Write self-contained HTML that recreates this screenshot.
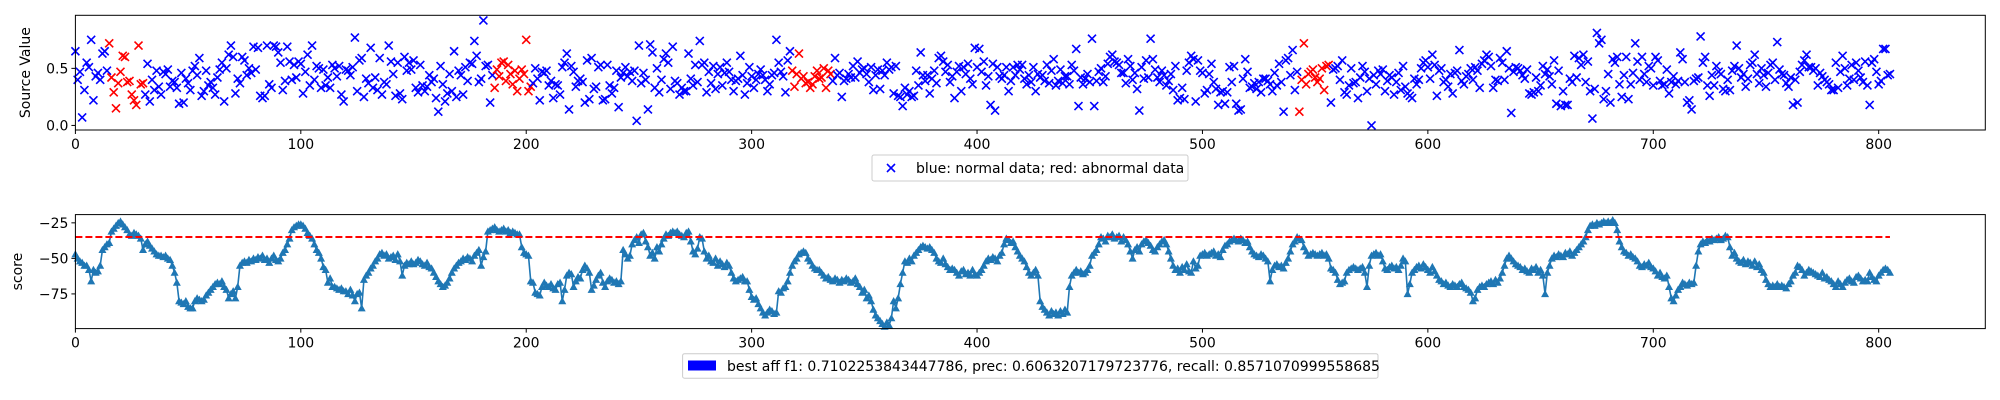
<!DOCTYPE html>
<html><head><meta charset="utf-8">
<style>
html,body{margin:0;padding:0;background:#fff;}
svg{display:block;font-family:"DejaVu Sans","Liberation Sans",sans-serif;}
</style></head>
<body>
<svg id="chart" width="2000" height="400" viewBox="0 0 2000 400" xmlns="http://www.w3.org/2000/svg">
<rect width="2000" height="400" fill="#fff"/>
<g id="topPanel"></g>
<g id="botPanel"></g>
</svg>
<script>
const xTicks=[0,100,200,300,400,500,600,700,800];
const srcYTicks=[0.0,0.5];
const srcYTickLabels=["0.0","0.5"];
const scoreYTicks=[-25,-50,-75];
const scoreYTickLabels=["\u221225","\u221250","\u221275"];
const threshold=-35;
const abnormalRanges=[[15,30],[186,202],[318,335],[543,556]];
const sourceValues=[.65,.40,.47,.07,.31,.55,.51,.75,.22,.43,.46,.40,.63,.65,.48,.72,.42,.29,.15,.37,
.47,.61,.60,.38,.39,.27,.22,.18,.70,.36,.37,.27,.54,.21,.40,.31,.48,.34,.27,.47,
.45,.49,.34,.39,.38,.33,.19,.46,.20,.41,.37,.31,.48,.52,.44,.59,.26,.30,.48,.35,
.38,.33,.27,.42,.49,.55,.21,.50,.62,.70,.60,.28,.41,.37,.60,.57,.44,.50,.46,.69,
.49,.68,.26,.24,.26,.70,.36,.33,.70,.69,.64,.55,.31,.39,.69,.56,.40,.53,.42,.56,
.54,.28,.47,.62,.35,.70,.40,.52,.50,.33,.49,.35,.42,.33,.53,.50,.43,.52,.27,.21,
.49,.48,.44,.51,.77,.30,.57,.59,.25,.41,.37,.68,.33,.42,.31,.59,.27,.38,.36,.70,
.56,.45,.26,.55,.28,.23,.60,.48,.55,.49,.57,.33,.29,.53,.35,.30,.34,.44,.38,.41,
.24,.12,.52,.36,.21,.28,.45,.30,.65,.25,.48,.44,.27,.51,.39,.55,.54,.74,.61,.38,
.41,.92,.52,.53,.20,.44,.33,.49,.43,.55,.56,.39,.53,.45,.36,.48,.30,.41,.49,.45,
.75,.30,.34,.37,.50,.41,.22,.47,.46,.48,.35,.39,.24,.36,.35,.27,.51,.55,.63,.14,
.52,.47,.34,.39,.41,.38,.20,.57,.23,.59,.32,.34,.51,.53,.22,.23,.53,.35,.28,.33,
.48,.16,.42,.46,.51,.43,.47,.39,.48,.04,.70,.37,.46,.40,.14,.71,.64,.33,.50,.29,
.40,.58,.63,.55,.32,.69,.39,.37,.27,.33,.30,.30,.63,.41,.35,.53,.38,.74,.53,.55,
.29,.47,.37,.52,.32,.45,.51,.35,.46,.55,.47,.40,.30,.39,.41,.61,.44,.27,.37,.51,
.43,.33,.40,.45,.49,.44,.40,.30,.36,.44,.46,.75,.55,.47,.43,.29,.57,.65,.48,.34,
.45,.63,.41,.43,.37,.38,.33,.36,.43,.48,.41,.42,.50,.33,.48,.45,.39,.59,.44,.46,
.25,.39,.41,.45,.42,.52,.42,.56,.46,.49,.50,.45,.38,.51,.31,.44,.49,.32,.48,.44,
.55,.49,.51,.28,.52,.26,.25,.17,.33,.27,.30,.25,.26,.48,.35,.64,.44,.39,.44,.28,
.41,.48,.37,.59,.61,.56,.47,.53,.38,.43,.24,.47,.52,.30,.51,.45,.54,.41,.36,.68,
.51,.67,.47,.56,.35,.43,.18,.54,.13,.51,.43,.41,.44,.51,.30,.39,.51,.44,.53,.49,
.53,.41,.36,.44,.38,.51,.30,.45,.42,.44,.39,.53,.37,.48,.58,.35,.39,.49,.37,.43,
.43,.36,.53,.48,.67,.17,.42,.36,.41,.45,.38,.76,.17,.39,.47,.50,.38,.43,.54,.60,
.62,.56,.55,.53,.46,.46,.37,.58,.52,.40,.46,.32,.13,.51,.41,.57,.42,.76,.58,.49,
.42,.38,.48,.44,.35,.39,.45,.31,.52,.22,.24,.33,.23,.48,.55,.61,.58,.21,.57,.48,
.46,.28,.31,.45,.54,.38,.32,.18,.29,.30,.19,.29,.51,.38,.52,.19,.13,.14,.41,.58,
.47,.33,.34,.37,.32,.38,.29,.41,.41,.39,.36,.30,.46,.35,.54,.38,.12,.57,.59,.44,
.66,.31,.47,.12,.40,.72,.36,.45,.47,.49,.42,.38,.41,.50,.31,.52,.53,.20,.49,.50,
.52,.40,.57,.29,.27,.35,.50,.37,.38,.24,.42,.52,.47,.30,.41,.00,.44,.36,.48,.45,
.49,.30,.39,.44,.42,.27,.38,.46,.31,.52,.34,.28,.26,.24,.41,.36,.40,.50,.55,.57,
.51,.41,.62,.53,.26,.48,.50,.38,.40,.34,.45,.28,.46,.48,.66,.39,.36,.43,.45,.50,
.40,.51,.48,.33,.54,.57,.62,.60,.52,.33,.40,.39,.59,.55,.40,.65,.50,.11,.47,.51,
.50,.48,.44,.41,.49,.28,.27,.29,.42,.30,.35,.52,.45,.49,.43,.36,.57,.19,.48,.17,
.30,.18,.18,.41,.38,.61,.42,.59,.53,.62,.38,.56,.30,.06,.32,.81,.72,.75,.23,.30,
.45,.20,.58,.55,.60,.36,.25,.44,.60,.23,.36,.46,.72,.56,.40,.60,.45,.38,.52,.50,
.35,.60,.57,.39,.35,.36,.49,.28,.38,.43,.36,.39,.64,.58,.38,.20,.22,.14,.39,.41,
.42,.78,.55,.60,.35,.26,.44,.35,.52,.47,.45,.32,.30,.40,.31,.48,.52,.70,.50,.42,
.45,.34,.41,.53,.55,.62,.45,.37,.50,.44,.34,.46,.53,.55,.40,.73,.49,.45,.44,.37,
.34,.42,.18,.40,.20,.47,.53,.57,.62,.51,.51,.48,.50,.35,.46,.43,.40,.38,.36,.31,
.31,.55,.33,.47,.61,.50,.35,.41,.53,.40,.55,.48,.42,.38,.56,.35,.18,.55,.58,.47,
.36,.39,.67,.67,.44,.45];
const scoreValues=[-47,-50,-52,-53,-55,-55,-58,-66,-58,-60,
-59,-55,-44,-42,-40,-39,-31,-29,-27,-25,
-24,-26,-28,-30,-33,-34,-32,-33,-34,-36,
-44,-40,-38,-41,-43,-45,-47,-48,-48,-49,
-48,-50,-51,-55,-60,-67,-80,-81,-82,-80,
-84,-85,-85,-80,-78,-79,-80,-79,-76,-74,
-72,-70,-68,-67,-68,-66,-70,-72,-78,-75,
-73,-78,-70,-55,-53,-52,-53,-51,-52,-50,
-51,-49,-50,-48,-51,-50,-53,-50,-48,-51,
-52,-50,-46,-44,-40,-36,-30,-28,-27,-26,
-26,-27,-29,-32,-34,-36,-40,-44,-46,-50,
-56,-58,-67,-64,-70,-70,-71,-72,-71,-73,
-73,-75,-72,-76,-80,-75,-74,-85,-65,-62,
-60,-57,-55,-52,-50,-47,-46,-48,-47,-50,
-49,-48,-51,-47,-52,-62,-55,-53,-54,-52,
-54,-53,-51,-52,-54,-55,-53,-56,-57,-60,
-63,-66,-68,-70,-69,-67,-64,-60,-57,-55,
-53,-52,-50,-51,-49,-50,-52,-48,-46,-44,
-55,-49,-45,-31,-30,-29,-28,-30,-31,-30,
-29,-31,-30,-32,-31,-32,-33,-33,-42,-46,
-47,-48,-66,-67,-74,-75,-76,-70,-67,-69,
-70,-68,-71,-72,-68,-67,-80,-72,-62,-60,
-61,-70,-66,-63,-64,-58,-55,-57,-60,-72,
-69,-65,-62,-60,-67,-70,-66,-64,-65,-67,
-66,-68,-66,-44,-47,-50,-48,-40,-37,-35,
-39,-33,-32,-38,-42,-48,-46,-50,-42,-45,
-40,-36,-33,-34,-32,-31,-32,-31,-33,-34,
-35,-32,-31,-38,-45,-47,-43,-35,-36,-45,
-50,-48,-52,-53,-50,-55,-52,-54,-56,-53,
-55,-60,-64,-66,-65,-64,-63,-66,-66,-72,
-77,-79,-78,-82,-85,-88,-90,-88,-86,-87,
-89,-88,-73,-74,-71,-70,-66,-60,-55,-52,
-50,-47,-46,-45,-46,-50,-52,-55,-57,-58,
-58,-60,-62,-64,-63,-65,-66,-64,-65,-67,
-65,-66,-64,-65,-67,-66,-64,-68,-70,-74,
-72,-78,-76,-80,-86,-90,-92,-94,-96,-98,
-95,-97,-92,-80,-85,-78,-68,-60,-52,-53,
-50,-52,-48,-46,-44,-42,-41,-42,-43,-42,
-44,-46,-50,-52,-53,-50,-54,-56,-58,-57,
-58,-60,-62,-59,-58,-61,-60,-62,-58,-61,
-62,-60,-58,-55,-52,-50,-51,-49,-50,-52,
-48,-46,-40,-36,-37,-39,-38,-42,-45,-48,
-50,-52,-56,-60,-62,-60,-58,-62,-80,-84,
-86,-88,-90,-87,-89,-88,-90,-87,-89,-86,
-88,-70,-62,-60,-58,-60,-59,-61,-60,-58,
-55,-48,-46,-44,-40,-35,-36,-38,-34,-35,
-33,-36,-35,-34,-38,-35,-37,-40,-45,-50,
-44,-42,-45,-40,-38,-37,-39,-41,-44,-45,
-42,-40,-38,-37,-40,-45,-50,-55,-58,-57,
-60,-56,-58,-54,-59,-60,-52,-57,-55,-48,
-47,-46,-48,-47,-46,-45,-48,-47,-49,-44,
-41,-40,-38,-37,-36,-37,-38,-36,-37,-39,
-38,-42,-45,-47,-48,-49,-47,-48,-50,-52,
-66,-58,-55,-54,-56,-55,-57,-53,-50,-45,
-40,-38,-35,-36,-37,-42,-45,-48,-47,-46,
-47,-48,-47,-46,-48,-47,-50,-57,-58,-60,
-65,-68,-67,-66,-60,-58,-57,-56,-57,-58,
-57,-56,-60,-70,-55,-48,-47,-46,-48,-47,
-52,-57,-58,-56,-55,-57,-56,-58,-55,-50,
-52,-75,-68,-60,-58,-56,-55,-57,-54,-56,
-58,-60,-56,-59,-62,-65,-66,-68,-67,-69,
-70,-68,-69,-70,-68,-67,-70,-71,-72,-74,
-80,-78,-72,-70,-69,-70,-68,-67,-66,-68,
-65,-67,-64,-60,-55,-50,-48,-50,-52,-54,
-55,-56,-58,-57,-59,-60,-57,-58,-56,-60,
-58,-62,-75,-60,-55,-50,-48,-49,-47,-48,
-49,-46,-47,-45,-48,-46,-44,-42,-40,-38,
-35,-30,-27,-26,-27,-25,-26,-25,-24,-25,
-24,-25,-23,-25,-30,-38,-42,-45,-46,-48,
-47,-49,-50,-52,-55,-56,-54,-55,-53,-56,
-57,-59,-62,-60,-63,-64,-62,-70,-78,-80,
-76,-72,-70,-67,-68,-69,-67,-68,-67,-55,
-45,-40,-38,-39,-37,-38,-36,-37,-36,-35,
-37,-36,-34,-35,-42,-48,-46,-50,-52,-53,
-51,-54,-52,-53,-55,-52,-56,-54,-58,-60,
-65,-68,-70,-69,-70,-68,-70,-69,-70,-71,
-68,-66,-62,-60,-55,-56,-58,-62,-60,-58,
-59,-60,-61,-62,-63,-60,-64,-63,-65,-66,
-68,-70,-66,-68,-70,-67,-65,-64,-66,-67,
-63,-62,-64,-66,-65,-66,-60,-63,-65,-66,
-62,-60,-58,-57,-58,-60];
const legend1Text="blue: normal data; red: abnormal data";
const legend2Text="best aff f1: 0.7102253843447786, prec: 0.6063207179723776, recall: 0.8571070999558685";

const SVGNS="http://www.w3.org/2000/svg";
function mk(parent,tag,attrs){const e=document.createElementNS(SVGNS,tag);for(const k in attrs)e.setAttribute(k,attrs[k]);parent.appendChild(e);return e;}
const AXL=75.4,AXR=1985.3,XMIN=0,XMAX=847.3;
function xs(v){return AXL+(v-XMIN)/(XMAX-XMIN)*(AXR-AXL);}
const PTOP={t:15.3,b:130,ymin:-0.04,ymax:0.965};
const PBOT={t:214.6,b:328.6,ymin:-99.4,ymax:-19.2};
function ysTop(v){return PTOP.b-(v-PTOP.ymin)/(PTOP.ymax-PTOP.ymin)*(PTOP.b-PTOP.t);}
function ysBot(v){return PBOT.b-(v-PBOT.ymin)/(PBOT.ymax-PBOT.ymin)*(PBOT.b-PBOT.t);}
function isAbn(i){return abnormalRanges.some(r=>i>=r[0]&&i<=r[1]);}

function drawAxes(g,P,ys,yt,ytl,label,labelX,prefix){
  for(const t of xTicks){
    const x=xs(t);
    const tk=mk(g,'line',{x1:x,x2:x,y1:P.b,y2:P.b+4,stroke:'#000','stroke-width':1});
    
    
    const tl=mk(g,'text',{x:x,y:P.b+19,'text-anchor':'middle','font-size':14,fill:'#000'});
    tl.textContent=String(t);
    
    
  }
  yt.forEach((t,i)=>{
    const y=ys(t);
    const tk=mk(g,'line',{x1:AXL-4,x2:AXL,y1:y,y2:y,stroke:'#000','stroke-width':1});
    
    
    const tl=mk(g,'text',{x:AXL-7,y:y+5,'text-anchor':'end','font-size':14,fill:'#000'});
    tl.textContent=ytl[i];
    
    
  });
  const cy=(P.t+P.b)/2;
  const yl=mk(g,'text',{x:labelX,y:cy,'text-anchor':'middle','font-size':14,fill:'#000',transform:'rotate(-90 '+labelX+' '+cy+')'});
  yl.textContent=label;
  
  
  const fr=mk(g,'rect',{x:AXL,y:P.t,width:AXR-AXL,height:P.b-P.t,fill:'none',stroke:'#000','stroke-width':1});
  
  
}

const topG=document.getElementById('topPanel');
const ptsG=mk(topG,'g',{'stroke-width':1.6});


sourceValues.forEach((v,i)=>{
  const x=xs(i),y=ysTop(v),s=4;
  const c=isAbn(i)?'#ff0000':'#0000ff';
  const p=mk(ptsG,'path',{d:'M'+(x-s)+','+(y-s)+'L'+(x+s)+','+(y+s)+'M'+(x-s)+','+(y+s)+'L'+(x+s)+','+(y-s),stroke:c});
  
  
});
drawAxes(topG,PTOP,ysTop,srcYTicks,srcYTickLabels,'Source Value',30,'top');

const lg1=mk(topG,'g',{});


mk(lg1,'rect',{x:872,y:155,width:316,height:26,rx:2,fill:'#fff',stroke:'#ccc','stroke-width':1});
mk(lg1,'path',{d:'M887,164L895,172M887,172L895,164',stroke:'#0000ff','stroke-width':1.6});
const lt1=mk(lg1,'text',{x:916,y:173,'font-size':14,fill:'#000'});
lt1.textContent=legend1Text;



const botG=document.getElementById('botPanel');
const lineD=scoreValues.map((v,i)=>(i?'L':'M')+xs(i).toFixed(2)+','+ysBot(v).toFixed(2)).join('');
const ln=mk(botG,'path',{d:lineD,fill:'none',stroke:'#1f77b4','stroke-width':1.6});


const mg=mk(botG,'g',{fill:'#1f77b4'});


scoreValues.forEach((v,i)=>{
  const x=xs(i),y=ysBot(v),s=4;
  const m=mk(mg,'path',{d:'M'+x+','+(y-s)+'L'+(x+s)+','+(y+s*0.8)+'L'+(x-s)+','+(y+s*0.8)+'Z'});
  
  
});
const th=mk(botG,'line',{x1:xs(0),x2:xs(scoreValues.length-1),y1:ysBot(threshold),y2:ysBot(threshold),stroke:'#ff0000','stroke-width':2,'stroke-dasharray':'7,3'});


drawAxes(botG,PBOT,ysBot,scoreYTicks,scoreYTickLabels,'score',22,'bottom');

const lg2=mk(botG,'g',{});


mk(lg2,'rect',{x:682.6,y:353.7,width:695.4,height:24.5,rx:2,fill:'#fff',stroke:'#ccc','stroke-width':1});
mk(lg2,'rect',{x:688,y:360.5,width:28,height:10,fill:'#0000ff'});
const lt2=mk(lg2,'text',{x:727,y:371,'font-size':14,fill:'#000'});
lt2.textContent=legend2Text;


</script>
</body></html>
